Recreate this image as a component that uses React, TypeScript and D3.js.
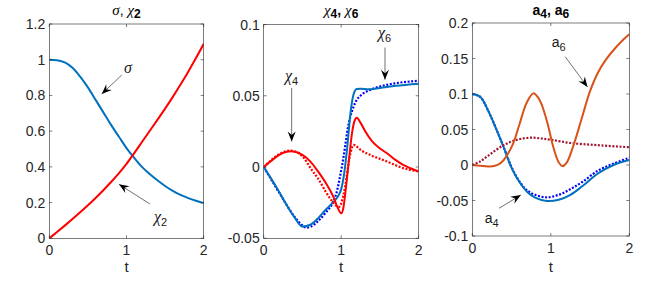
import React from 'react'
import * as d3 from 'd3'

const W = 664
const H = 281

// ---- panel 1: sigma, chi2
const sigmaT = [0, 0.1, 0.2, 0.3, 0.4, 0.5, 0.6, 0.7, 0.8, 0.9, 1.0, 1.1, 1.2, 1.3, 1.4, 1.5, 1.6, 1.7, 1.8, 1.9, 2.0]
const sigma = [1.0, 0.997, 0.985, 0.955, 0.905, 0.845, 0.775, 0.705, 0.635, 0.57, 0.505, 0.45, 0.4, 0.36, 0.325, 0.293, 0.265, 0.243, 0.225, 0.21, 0.197]
const chi2T = [0, 0.1, 0.2, 0.3, 0.4, 0.5, 0.6, 0.7, 0.8, 0.9, 1.0, 1.1, 1.2, 1.3, 1.4, 1.5, 1.6, 1.7, 1.8, 1.9, 2.0]
const chi2 = [0, 0.035, 0.071, 0.108, 0.146, 0.185, 0.226, 0.269, 0.315, 0.364, 0.417, 0.477, 0.539, 0.601, 0.663, 0.726, 0.792, 0.861, 0.933, 1.009, 1.089]

// ---- panel 2: chi4, chi6 (solid = computed, dotted = reference)
const chi6T = [0, 0.1, 0.2, 0.3, 0.4, 0.5, 0.6, 0.7, 0.8, 0.9, 0.97, 1.0, 1.04, 1.08, 1.12, 1.16, 1.2, 1.25, 1.35, 1.5, 1.7, 2.0]
const chi6 = [0, -0.0085, -0.0175, -0.027, -0.0355, -0.0418, -0.0405, -0.036, -0.03, -0.0245, -0.0195, -0.0155, -0.004, 0.015, 0.038, 0.051, 0.0548, 0.055, 0.0545, 0.0555, 0.057, 0.0585]
const chi6RefT = [0, 0.1, 0.2, 0.3, 0.4, 0.5, 0.55, 0.6, 0.7, 0.8, 0.9, 0.94, 0.98, 1.03, 1.09, 1.18, 1.27, 1.37, 1.5, 1.67, 2.0]
const chi6Ref = [0, -0.009, -0.018, -0.027, -0.035, -0.041, -0.0425, -0.042, -0.038, -0.032, -0.024, -0.018, -0.008, 0.007, 0.0285, 0.045, 0.051, 0.054, 0.0565, 0.0585, 0.0605]
const chi4T = [0, 0.1, 0.2, 0.3, 0.35, 0.4, 0.5, 0.6, 0.7, 0.8, 0.9, 0.95, 1.0, 1.03, 1.06, 1.1, 1.14, 1.17, 1.2, 1.25, 1.3, 1.4, 1.5, 1.6, 1.7, 1.8, 1.9, 2.0]
const chi4 = [0, 0.0045, 0.0085, 0.0107, 0.011, 0.0108, 0.0085, 0.004, -0.003, -0.011, -0.021, -0.028, -0.0325, -0.028, -0.015, 0.005, 0.024, 0.032, 0.0345, 0.031, 0.026, 0.018, 0.013, 0.0093, 0.005, 0.0015, -0.001, -0.0032]
const chi4RefT = [0, 0.1, 0.2, 0.33, 0.4, 0.5, 0.62, 0.7, 0.84, 0.97, 1.0, 1.05, 1.11, 1.16, 1.25, 1.37, 1.59, 1.8, 2.0]
const chi4Ref = [0, 0.005, 0.009, 0.0115, 0.011, 0.0075, -0.002, -0.008, -0.0207, -0.028, -0.0255, -0.0137, 0.0074, 0.0155, 0.012, 0.0086, 0.0039, -0.0008, -0.003]

// ---- panel 3: a4, a6
const a4T = [0, 0.1, 0.2, 0.3, 0.4, 0.5, 0.6, 0.7, 0.8, 0.95, 1.1, 1.25, 1.4, 1.6, 1.8, 2.0]
const a4 = [0.1, 0.096, 0.077, 0.052, 0.025, -0.004, -0.024, -0.038, -0.046, -0.0507, -0.049, -0.042, -0.03, -0.012, 0.0, 0.007]
const a4RefT = [0, 0.1, 0.2, 0.3, 0.4, 0.5, 0.6, 0.69, 0.8, 0.95, 1.1, 1.25, 1.4, 1.6, 1.8, 2.0]
const a4Ref = [0.1, 0.096, 0.077, 0.052, 0.025, -0.003, -0.023, -0.035, -0.042, -0.0455, -0.042, -0.034, -0.024, -0.008, 0.002, 0.01]
const a6T = [0, 0.1, 0.2, 0.28, 0.35, 0.4, 0.45, 0.52, 0.6, 0.69, 0.78, 0.86, 0.95, 1.03, 1.1, 1.15, 1.2, 1.29, 1.4, 1.5, 1.6, 1.7, 1.8, 1.9, 2.0]
const a6 = [0, -0.001, -0.002, -0.0015, 0.002, 0.007, 0.015, 0.03, 0.057, 0.087, 0.101, 0.091, 0.062, 0.026, 0.004, -0.0015, 0.003, 0.028, 0.068, 0.104, 0.13, 0.148, 0.162, 0.174, 0.184]
const a6RefT = [0, 0.1, 0.2, 0.3, 0.4, 0.5, 0.61, 0.75, 0.9, 1.03, 1.25, 1.59, 2.0]
const a6Ref = [0, 0.005, 0.013, 0.021, 0.028, 0.033, 0.0366, 0.0385, 0.037, 0.035, 0.031, 0.028, 0.025]

type Pt = [number, number]
const zip = (t: number[], v: number[]): Pt[] => t.map((x, i) => [x, v[i]])

interface Series { data: Pt[]; color: string; dotted?: boolean }
interface Arrow { from: Pt; to: Pt }
interface Label { at: Pt; main: string; sub?: string; serif?: boolean }

interface PanelProps {
  box: { left: number; right: number; top: number; bottom: number }
  yDomain: [number, number]
  yTicks: number[]
  series: Series[]
  arrows: Arrow[]
  labels: Label[]
  title: React.ReactNode
  smooth?: boolean
}

const axisColor = '#262626'
const fmt = (v: number) => String(+v.toFixed(2))

function ArrowMark({ x1, y1, x2, y2 }: { x1: number; y1: number; x2: number; y2: number }) {
  const ang = Math.atan2(y2 - y1, x2 - x1) * 180 / Math.PI
  return (
    <g>
      <line x1={x1} y1={y1} x2={x2} y2={y2} stroke="#333" strokeWidth={0.7} />
      <path d="M0,0 L-10,-4 L-6.5,0 L-10,4 Z" fill="#000" transform={`translate(${x2},${y2}) rotate(${ang})`} />
    </g>
  )
}

function Panel({ box, yDomain, yTicks, series, arrows, labels, title, smooth }: PanelProps) {
  const x = d3.scaleLinear().domain([0, 2]).range([box.left, box.right])
  const y = d3.scaleLinear().domain(yDomain).range([box.bottom, box.top])
  const line = d3.line<Pt>().x(d => x(d[0])).y(d => y(d[1]))
    .curve(smooth ? d3.curveCatmullRom.alpha(0.5) : d3.curveMonotoneX)
  const xTicks = [0, 1, 2]
  const tl = 3
  const cx = (box.left + box.right) / 2
  const clipId = `clip-${Math.round(box.left)}`
  return (
    <g>
      <defs>
        <clipPath id={clipId}>
          <rect x={box.left} y={box.top} width={box.right - box.left} height={box.bottom - box.top} />
        </clipPath>
      </defs>
      <g clipPath={`url(#${clipId})`}>
        {series.map((s, i) => (
          <path key={i} d={line(s.data) ?? ''} fill="none" stroke={s.color}
            strokeWidth={s.dotted ? 2.2 : 2} strokeDasharray={s.dotted ? '2 1.6' : undefined} />
        ))}
      </g>
      <rect x={box.left} y={box.top} width={box.right - box.left} height={box.bottom - box.top}
        fill="none" stroke={axisColor} strokeWidth={0.6} />
      {yTicks.map(v => (
        <g key={`y${v}`}>
          <line x1={box.left} x2={box.left + tl} y1={y(v)} y2={y(v)} stroke={axisColor} strokeWidth={0.6} />
          <line x1={box.right} x2={box.right - tl} y1={y(v)} y2={y(v)} stroke={axisColor} strokeWidth={0.6} />
          <text x={box.left - 4} y={y(v)} dy="0.36em" textAnchor="end" fontSize={14} fill={axisColor}>{fmt(v)}</text>
        </g>
      ))}
      {xTicks.map(v => (
        <g key={`x${v}`}>
          <line x1={x(v)} x2={x(v)} y1={box.bottom} y2={box.bottom - tl} stroke={axisColor} strokeWidth={0.6} />
          <line x1={x(v)} x2={x(v)} y1={box.top} y2={box.top + tl} stroke={axisColor} strokeWidth={0.6} />
          <text x={x(v)} y={box.bottom + 17} textAnchor="middle" fontSize={14} fill={axisColor}>{v}</text>
        </g>
      ))}
      <text x={cx} y={272} textAnchor="middle" fontSize={15} fill={axisColor}>t</text>
      <text x={cx} y={15} textAnchor="middle" fontSize={14} fill="#000">{title}</text>
      {arrows.map((a, i) => (
        <ArrowMark key={i} x1={x(a.from[0])} y1={y(a.from[1])} x2={x(a.to[0])} y2={y(a.to[1])} />
      ))}
      {labels.map((l, i) => (
        <text key={i} x={x(l.at[0])} y={y(l.at[1])} fontSize={14} fill="#1a1a1a">
          <tspan fontFamily={l.serif ? '"Liberation Serif", serif' : undefined} fontStyle={l.serif ? 'italic' : undefined}
            fontSize={l.serif ? 16 : 14}>{l.main}</tspan>
          {l.sub && <tspan fontSize={11} dy={4}>{l.sub}</tspan>}
        </text>
      ))}
    </g>
  )
}

const serif = { fontFamily: '"Liberation Serif", serif', fontStyle: 'italic' as const, fontSize: 15 }

export default function App() {
  return (
    <svg width={W} height={H} style={{ position: 'absolute', left: 0, top: 0, background: '#fff' }}
      fontFamily='"Liberation Sans", Arial, sans-serif'>
      <Panel
        smooth
        box={{ left: 49.3, right: 203.7, top: 24, bottom: 238.3 }}
        yDomain={[0, 1.2]}
        yTicks={[0, 0.2, 0.4, 0.6, 0.8, 1, 1.2]}
        series={[
          { data: zip(sigmaT, sigma), color: '#0072BD' },
          { data: zip(chi2T, chi2), color: '#FF0000' },
        ]}
        arrows={[
          { from: [0.938, 0.914], to: [0.679, 0.808] },
          { from: [1.304, 0.192], to: [0.903, 0.302] },
        ]}
        labels={[
          { at: [0.968, 0.923], main: 'σ', serif: true },
          { at: [1.356, 0.09], main: 'χ', sub: '2', serif: true },
        ]}
        title={<>
          <tspan {...serif}>σ</tspan><tspan>, </tspan><tspan {...serif}>χ</tspan>
          <tspan fontWeight="bold" fontSize={12} dy={3}>2</tspan>
        </>}
      />
      <Panel
        box={{ left: 263.7, right: 418.7, top: 24.5, bottom: 238.3 }}
        yDomain={[-0.05, 0.1]}
        yTicks={[-0.05, 0, 0.05, 0.1]}
        series={[
          { data: zip(chi6RefT, chi6Ref), color: '#0000FF', dotted: true },
          { data: zip(chi6T, chi6), color: '#0072BD' },
          { data: zip(chi4RefT, chi4Ref), color: '#FF0000', dotted: true },
          { data: zip(chi4T, chi4), color: '#FF0000' },
        ]}
        arrows={[
          { from: [0.361, 0.0555], to: [0.361, 0.0179] },
          { from: [1.565, 0.0838], to: [1.565, 0.0613] },
        ]}
        labels={[
          { at: [0.275, 0.0606], main: 'χ', sub: '4', serif: true },
          { at: [1.475, 0.0902], main: 'χ', sub: '6', serif: true },
        ]}
        title={<>
          <tspan {...serif}>χ</tspan><tspan fontWeight="bold" fontSize={12} dy={3}>4</tspan>
          <tspan fontWeight="bold" dy={-3}>, </tspan><tspan {...serif}>χ</tspan>
          <tspan fontWeight="bold" fontSize={12} dy={3}>6</tspan>
        </>}
      />
      <Panel
        smooth
        box={{ left: 472.3, right: 629.3, top: 23, bottom: 236 }}
        yDomain={[-0.1, 0.2]}
        yTicks={[-0.1, -0.05, 0, 0.05, 0.1, 0.15, 0.2]}
        series={[
          { data: zip(a4RefT, a4Ref), color: '#0000FF', dotted: true },
          { data: zip(a4T, a4), color: '#0072BD' },
          { data: zip(a6RefT, a6Ref), color: '#A2142F', dotted: true },
          { data: zip(a6T, a6), color: '#D95319' },
        ]}
        arrows={[
          { from: [1.183, 0.1525], to: [1.468, 0.11] },
          { from: [0.341, -0.061], to: [0.618, -0.0423] },
        ]}
        labels={[
          { at: [1.011, 0.1655], main: 'a', sub: '6' },
          { at: [0.158, -0.0817], main: 'a', sub: '4' },
        ]}
        title={<>
          <tspan fontWeight="bold">a</tspan><tspan fontWeight="bold" fontSize={12} dy={3}>4</tspan>
          <tspan fontWeight="bold" dy={-3}>, a</tspan>
          <tspan fontWeight="bold" fontSize={12} dy={3}>6</tspan>
        </>}
      />
    </svg>
  )
}
